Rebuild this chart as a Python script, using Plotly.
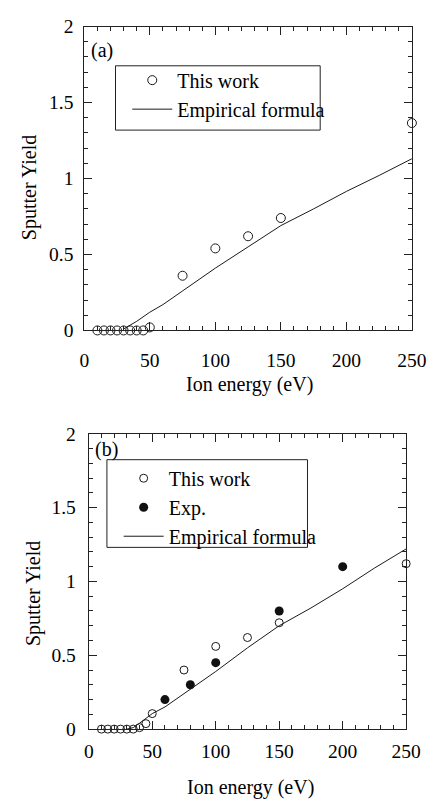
import plotly.graph_objects as go

# ---- Panel (a) data ----
a_work_e = [10, 15, 20, 25, 30, 35, 40, 45, 50, 75, 100, 125, 150, 250]
a_work_y = [0, 0, 0, 0, 0, 0, 0, 0, 0.02, 0.36, 0.54, 0.62, 0.74, 1.365]
a_emp_e = [30, 40, 50, 60, 75, 100, 125, 150, 175, 200, 225, 250]
a_emp_y = [0.01, 0.06, 0.12, 0.17, 0.26, 0.41, 0.55, 0.69, 0.80, 0.915, 1.02, 1.13]

# ---- Panel (b) data ----
b_work_e = [10, 15, 20, 25, 30, 35, 40, 45, 50, 75, 100, 125, 150, 250]
b_work_y = [0, 0, 0, 0, 0, 0, 0.01, 0.037, 0.105, 0.40, 0.56, 0.62, 0.72, 1.12]
b_exp_e = [60, 80, 100, 150, 200]
b_exp_y = [0.20, 0.30, 0.45, 0.80, 1.10]
b_emp_e = [30, 35, 40, 45, 50, 60, 70, 80, 100, 125, 150, 175, 200, 225, 250]
b_emp_y = [0, 0.01, 0.04, 0.075, 0.105, 0.15, 0.21, 0.27, 0.39, 0.55, 0.70, 0.82, 0.95, 1.09, 1.22]

FONT = "Liberation Serif"
INK = "#1a1a1a"
TXT = "#000000"
W, H = 446, 808

fig = go.Figure()

open_marker = dict(symbol="circle-open", size=9, color=INK, line=dict(width=1, color=INK))
filled_marker = dict(symbol="circle", size=9, color="#111111", line=dict(width=0))

fig.add_trace(go.Scatter(x=a_work_e, y=a_work_y, mode="markers", name="This work",
                         marker=open_marker, xaxis="x", yaxis="y", legend="legend",
                         cliponaxis=False))
fig.add_trace(go.Scatter(x=a_emp_e, y=a_emp_y, mode="lines", name="Empirical formula",
                         line=dict(color=INK, width=1), xaxis="x", yaxis="y",
                         legend="legend"))

fig.add_trace(go.Scatter(x=b_work_e, y=b_work_y, mode="markers", name="This work",
                         marker=dict(open_marker, size=8), xaxis="x2", yaxis="y2",
                         legend="legend2", cliponaxis=False))
fig.add_trace(go.Scatter(x=b_exp_e, y=b_exp_y, mode="markers", name="Exp.",
                         marker=filled_marker, xaxis="x2", yaxis="y2",
                         legend="legend2", cliponaxis=False))
fig.add_trace(go.Scatter(x=b_emp_e, y=b_emp_y, mode="lines", name="Empirical formula",
                         line=dict(color=INK, width=1), xaxis="x2", yaxis="y2",
                         legend="legend2"))


def px_x(p):
    return p / W


def px_y(p):
    return 1 - p / H


common_axis = dict(
    showgrid=False, zeroline=False, showline=True, linecolor="#222222", linewidth=1,
    mirror="ticks", ticks="inside", ticklen=8, tickwidth=1, tickcolor="#222222",
    tickfont=dict(family=FONT, size=19.5, color=TXT),
)

xa = dict(common_axis, range=[0, 250], tick0=0, dtick=50,
          minor=dict(dtick=10, ticks="inside", ticklen=4, tickcolor="#222222"))
ya = dict(common_axis, range=[0, 2], tick0=0, dtick=0.5,
          minor=dict(dtick=0.1, ticks="inside", ticklen=4, tickcolor="#222222"))

legend_style = dict(xanchor="left", yanchor="top", borderwidth=0,
                    bgcolor="rgba(0,0,0,0)", itemwidth=40, tracegroupgap=0,
                    font=dict(family=FONT, size=20, color=TXT))

fig.update_layout(
    width=W, height=H,
    margin=dict(l=0, r=0, t=0, b=0),
    paper_bgcolor="white", plot_bgcolor="white",
    font=dict(family=FONT, size=20, color=TXT),
    xaxis=dict(xa, domain=[px_x(83), px_x(426)], anchor="y", ticklabelstandoff=12),
    yaxis=dict(ya, domain=[px_y(329), px_y(17)], anchor="x", ticklabelstandoff=6),
    xaxis2=dict(xa, domain=[px_x(87.7), px_x(420)], anchor="y2", ticklabelstandoff=4),
    yaxis2=dict(ya, domain=[px_y(738.3), px_y(435)], anchor="x2", ticklabelstandoff=8),
    legend=dict(legend_style, x=px_x(128), y=px_y(52)),
    legend2=dict(legend_style, x=px_x(119), y=px_y(460.7)),
    showlegend=True,
)

# legend frames
frames = [(115.7, 57.3, 330, 123.3), (106.7, 461.7, 316.7, 551.7)]
for x0, y0, x1, y1 in frames:
    fig.add_shape(type="rect", xref="paper", yref="paper",
                  x0=px_x(x0), x1=px_x(x1), y0=px_y(y1), y1=px_y(y0),
                  line=dict(color="#222222", width=1), fillcolor="white", layer="below")

annotations = [
    dict(text="(a)", x=px_x(88), y=px_y(41.7), xanchor="left", yanchor="middle"),
    dict(text="(b)", x=px_x(92), y=px_y(451.7), xanchor="left", yanchor="middle"),
    dict(text="Sputter Yield", x=px_x(25), y=px_y(182), textangle=-90,
         xanchor="center", yanchor="middle"),
    dict(text="Sputter Yield", x=px_x(30), y=px_y(599), textangle=-90,
         xanchor="center", yanchor="middle"),
    dict(text="Ion energy (eV)", x=px_x(256), y=px_y(384), xanchor="center", yanchor="middle"),
    dict(text="Ion energy (eV)", x=px_x(257), y=px_y(798), xanchor="center", yanchor="middle"),
]
for a in annotations:
    a.update(xref="paper", yref="paper", showarrow=False,
             font=dict(family=FONT, size=20, color=TXT))
fig.update_layout(annotations=annotations)

fig.write_html("out.html")
